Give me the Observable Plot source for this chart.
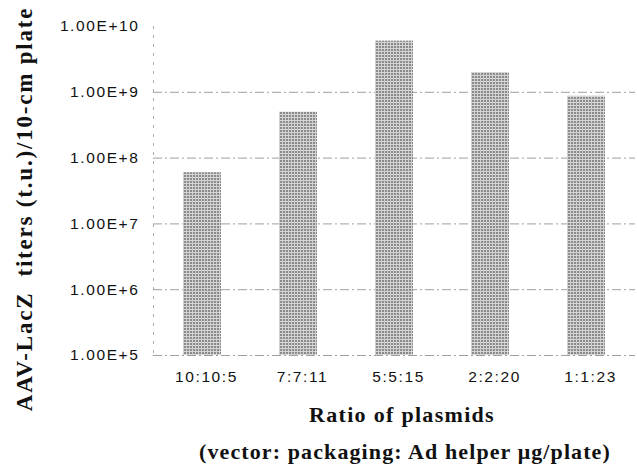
<!DOCTYPE html>
<html>
<head>
<meta charset="utf-8">
<script src="https://cdn.jsdelivr.net/npm/d3@7"></script>
<script src="https://cdn.jsdelivr.net/npm/@observablehq/plot@0.6"></script>
<style>
  html, body { margin: 0; padding: 0; background: #fff; }
  #wrap { position: relative; width: 637px; height: 467px; }
  #wrap svg text { font-family: 'Liberation Sans', Arial, sans-serif; font-size: 15.5px; letter-spacing: 1.6px; fill: #111; }
</style>
</head>
<body>
<div id="wrap"></div>
<script>
const ratios = ["10:10:5", "7:7:11", "5:5:15", "2:2:20", "1:1:23"];
const titers = [6.0e7, 5.0e8, 6.0e9, 2.0e9, 8.7e8];
const yTicks = [1e5, 1e6, 1e7, 1e8, 1e9, 1e10];
const yLabel = "AAV-LacZ  titers (t.u.)/10-cm plate";
const xTitle1 = "Ratio of plasmids";
const xTitle2 = "(vector: packaging: Ad helper \u03bcg/plate)";

const data = ratios.map((r, i) => ({ratio: r, titer: titers[i]}));

const chart = Plot.plot({
  width: 637,
  height: 395,
  marginLeft: 153,
  marginRight: 2,
  marginTop: 26,
  marginBottom: 40,
  style: {background: "#fff"},
  x: {domain: ratios, paddingInner: 0.6, paddingOuter: 0.3, label: null},
  y: {type: "log", domain: [1e5, 1e10], label: null},
  marks: [
    Plot.ruleY(yTicks.slice(0, 5), {stroke: "#888", strokeWidth: 0.8, strokeDasharray: "9,3,2,3"}),
    Plot.frame({anchor: "left", stroke: "#999", strokeWidth: 0.8, strokeDasharray: "2,7"}),
    Plot.barY(data, {x: "ratio", y1: 1e5, y2: "titer", fill: "url(#stip)"}),
    Plot.axisY({ticks: yTicks, tickSize: 0, tickPadding: 14, tickFormat: d => d.toExponential(2).toUpperCase(), label: null}),
    Plot.axisX({tickSize: 0, tickPadding: 15, label: null, dx: 4})
  ]
});

// stipple / mesh pattern for bars
const ns = "http://www.w3.org/2000/svg";
const defs = document.createElementNS(ns, "defs");
defs.innerHTML = `<pattern id="stip" width="3" height="3" patternUnits="userSpaceOnUse">
  <rect width="3" height="3" fill="#8a8a8a"/>
  <rect x="0" y="0" width="3" height="1" fill="#d8d8d8"/>
  <rect x="0" y="0" width="1" height="3" fill="#d0d0d0"/>
</pattern>`;
chart.insertBefore(defs, chart.firstChild);

const wrap = document.getElementById("wrap");
wrap.appendChild(chart);

const serif = "font-family:'Liberation Serif','DejaVu Serif',serif;font-weight:bold;color:#111;white-space:pre;position:absolute;";

// rotated y-axis title
const yl = document.createElement("div");
yl.textContent = yLabel;
yl.style.cssText = serif + "left:25px;top:209px;transform:translate(-50%,-50%) rotate(-90deg);font-size:23px;letter-spacing:1.8px;";
wrap.appendChild(yl);

const t1 = document.createElement("div");
t1.textContent = xTitle1;
t1.style.cssText = serif + "left:402px;top:415px;transform:translate(-50%,-50%);font-size:22px;letter-spacing:1.3px;";
wrap.appendChild(t1);
const t2 = document.createElement("div");
t2.textContent = xTitle2;
t2.style.cssText = serif + "left:405px;top:452px;transform:translate(-50%,-50%);font-size:22px;letter-spacing:1.1px;";
wrap.appendChild(t2);
</script>
</body>
</html>
